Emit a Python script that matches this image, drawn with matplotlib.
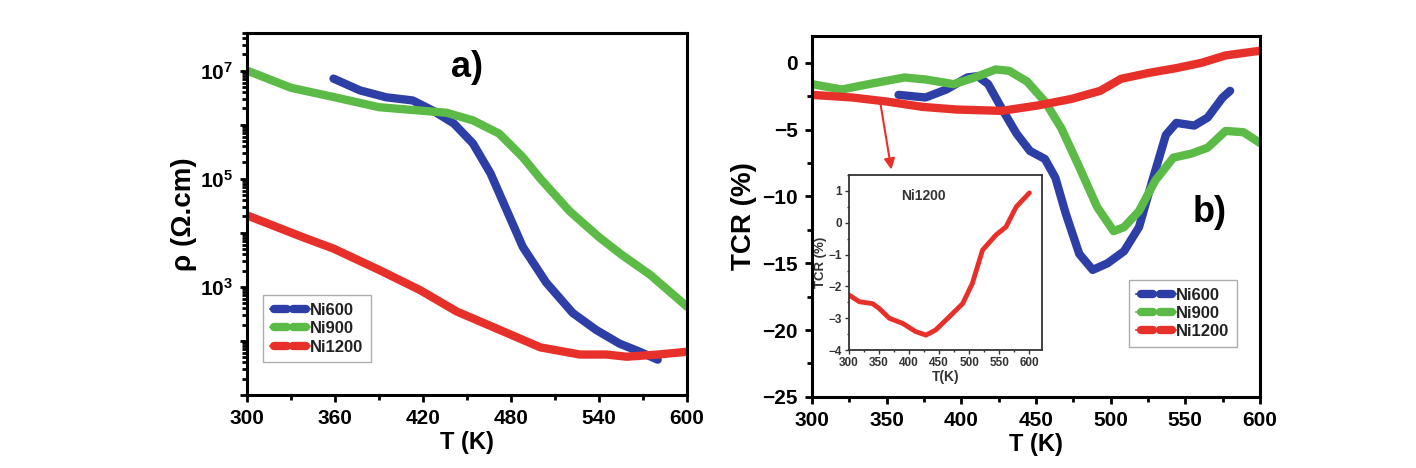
import numpy as np
import matplotlib
matplotlib.use('Agg')
import matplotlib.pyplot as plt
from matplotlib.lines import Line2D
from matplotlib.legend_handler import HandlerBase
from matplotlib.ticker import MultipleLocator, LogLocator, NullFormatter

plt.rcParams['font.family'] = ['Liberation Sans', 'DejaVu Sans']
plt.rcParams['font.weight'] = 'bold'
plt.rcParams['axes.labelweight'] = 'bold'
plt.rcParams['mathtext.fontset'] = 'custom'
plt.rcParams['mathtext.rm'] = 'Liberation Sans:bold'
plt.rcParams['mathtext.bf'] = 'Liberation Sans:bold'

# ---- panel a) resistivity [Ohm cm] vs T [K]
T_600a = [359, 377, 395, 413, 427, 441, 454, 466, 475, 488, 504, 522, 538, 554, 566, 580]
rho_600 = [7.1e6, 4.3e6, 3.2e6, 2.8e6, 1.8e6, 1.05e6, 4.5e5, 1.26e5, 3.5e4, 5.5e3,
           1.2e3, 3.3e2, 1.6e2, 89, 66, 45]
T_900a = [300, 330, 360, 390, 420, 436, 454, 472, 488, 500, 520, 540, 555, 575, 600]
rho_900 = [1.0e7, 4.8e6, 3.2e6, 2.1e6, 1.8e6, 1.66e6, 1.2e6, 6.8e5, 2.5e5, 1.0e5,
           2.5e4, 8.3e3, 4.0e3, 1.66e3, 4.3e2]
T_1200a = [300, 338, 359, 391, 418, 443, 470, 500, 527, 545, 559, 580, 600]
rho_1200 = [2.1e4, 8.3e3, 5.1e3, 2.0e3, 8.7e2, 3.5e2, 1.7e2, 76, 56, 56, 51, 56, 63]

# ---- panel b) TCR [%] vs T [K]
T_600b = [358, 376, 390, 404, 411, 418, 427, 437, 446, 456, 463, 470, 479, 488,
          498, 509, 519, 528, 537, 544, 556, 565, 575, 580]
tcr_600 = [-2.4, -2.6, -2.0, -1.1, -1.0, -1.6, -3.4, -5.3, -6.6, -7.2, -8.6, -11.3,
           -14.3, -15.5, -15.0, -14.1, -12.3, -8.8, -5.4, -4.5, -4.7, -4.1, -2.6, -2.1]
T_900b = [300, 320, 338, 362, 376, 395, 409, 423, 432, 444, 456, 467, 479, 491,
          502, 509, 519, 530, 542, 554, 565, 577, 589, 600]
tcr_900 = [-1.6, -2.0, -1.6, -1.1, -1.25, -1.6, -1.1, -0.5, -0.6, -1.4, -2.9, -4.9,
           -7.8, -10.8, -12.6, -12.3, -11.1, -8.8, -7.1, -6.8, -6.35, -5.1, -5.2, -6.0]
T_1200b = [300, 327, 350, 374, 397, 427, 451, 474, 493, 507, 526, 544, 561, 577, 600]
tcr_1200 = [-2.4, -2.6, -2.9, -3.3, -3.5, -3.6, -3.2, -2.7, -2.1, -1.2, -0.75, -0.4,
            0.0, 0.55, 0.9]

# inset, Ni1200 only
T_ins = [300, 317, 339, 350, 367, 389, 411, 428, 444, 467, 489, 505, 522, 544, 561, 578, 600]
tcr_ins = [-2.27, -2.48, -2.54, -2.69, -3.0, -3.16, -3.42, -3.53, -3.37, -2.95, -2.54,
           -1.91, -0.86, -0.39, -0.13, 0.50, 0.94]

labels = ['Ni600', 'Ni900', 'Ni1200']
c_blue = '#2d3fa6'
c_green = '#5cba47'
c_red = '#e8302a'
colors = [c_blue, c_green, c_red]


class CapsuleHandler(HandlerBase):
    # two rounded thick strokes joined by a thin line (Origin line+symbol look)
    def create_artists(self, legend, orig_handle, xdescent, ydescent,
                       width, height, fontsize, trans):
        c = orig_handle.get_color()
        y = height / 2 - ydescent
        x0 = -xdescent
        thin = Line2D([x0, x0 + width], [y, y], color=c, lw=1.2, transform=trans)
        a = Line2D([x0 + 3, x0 + width * 0.42], [y, y], color=c, lw=6,
                   solid_capstyle='round', transform=trans)
        b = Line2D([x0 + width * 0.58, x0 + width - 3], [y, y], color=c, lw=6,
                   solid_capstyle='round', transform=trans)
        return [thin, a, b]


fig = plt.figure(figsize=(14.16, 4.68), dpi=100)
ax1 = fig.add_axes([0.1744, 0.156, 0.3108, 0.774])
ax2 = fig.add_axes([0.5734, 0.152, 0.3164, 0.771])
axi = fig.add_axes([0.5996, 0.252, 0.1363, 0.374])

kw = dict(lw=6, solid_capstyle='round', solid_joinstyle='round')
ax1.plot(T_600a, rho_600, color=c_blue, **kw)
ax1.plot(T_900a, rho_900, color=c_green, **kw)
ax1.plot(T_1200a, rho_1200, color=c_red, **kw)
ax1.set_yscale('log')
ax1.set_xlim(300, 600)
ax1.set_ylim(10, 5e7)
ax1.set_xticks([300, 360, 420, 480, 540, 600])
ax1.xaxis.set_minor_locator(MultipleLocator(30))
ax1.set_yticks([10.0**k for k in range(1, 8)])
ax1.set_yticklabels([r'$\mathregular{10^{%d}}$' % k if k in (3, 5, 7) else '' for k in range(1, 8)])
ax1.yaxis.set_minor_locator(LogLocator(base=10, subs=np.arange(2, 10)))
ax1.yaxis.set_minor_formatter(NullFormatter())
ax1.set_xlabel('T (K)', fontsize=17, labelpad=2)
ax1.set_ylabel('\u03c1 (\u03a9.cm)', fontsize=20, labelpad=2)
ax1.text(450, 10**7.05, 'a)', fontsize=26, ha='center', va='center')

ax2.plot(T_600b, tcr_600, color=c_blue, **kw)
ax2.plot(T_900b, tcr_900, color=c_green, **kw)
ax2.plot(T_1200b, tcr_1200, color=c_red, **kw)
ax2.set_xlim(300, 600)
ax2.set_ylim(-25, 2)
ax2.set_xticks(np.arange(300, 601, 50))
ax2.set_yticks(np.arange(-25, 1, 5))
ax2.xaxis.set_minor_locator(MultipleLocator(25))
ax2.yaxis.set_minor_locator(MultipleLocator(2.5))
ax2.set_xlabel('T (K)', fontsize=17, labelpad=2)
ax2.set_ylabel('TCR (%)', fontsize=20, labelpad=4)
ax2.text(566, -11.2, 'b)', fontsize=26, ha='center', va='center')
ax2.annotate('', xy=(353.5, -8.2), xytext=(345.5, -2.8),
             arrowprops=dict(arrowstyle='-|>', color=c_red, lw=1.5, mutation_scale=16))

axi.plot(T_ins, tcr_ins, color=c_red, lw=3.5, solid_capstyle='round', solid_joinstyle='round')
axi.set_xlim(300, 621)
axi.set_ylim(-4, 1.5)
axi.set_xticks(np.arange(300, 601, 50))
axi.set_yticks(np.arange(-4, 2, 1))
axi.xaxis.set_minor_locator(MultipleLocator(25))
axi.yaxis.set_minor_locator(MultipleLocator(0.5))
axi.tick_params(which='both', direction='out', labelsize=8.5, width=1, pad=2, colors='#333333')
axi.tick_params(which='major', length=3)
axi.tick_params(which='minor', length=1.5)
for s in axi.spines.values():
    s.set_linewidth(1.3)
    s.set_color('#333333')
axi.set_xlabel('T(K)', fontsize=10, labelpad=1, color='#333333')
axi.set_ylabel('TCR (%)', fontsize=9.5, labelpad=1, color='#333333')
axi.text(0.27, 0.86, 'Ni1200', transform=axi.transAxes, fontsize=10, color='#333333')

for ax in (ax1, ax2):
    for s in ax.spines.values():
        s.set_linewidth(2.2)
    ax.tick_params(which='both', direction='out', width=2, labelsize=15, top=False, right=False)
    ax.tick_params(which='major', length=5, pad=5)
    ax.tick_params(which='minor', length=3.5)

proxies = [Line2D([], [], color=c) for c in colors]
leg_kw = dict(fontsize=12, frameon=True, fancybox=False, edgecolor='#999999',
              handlelength=2.4, handletextpad=0.0, labelspacing=0.2,
              borderpad=0.45, borderaxespad=0,
              handler_map={Line2D: CapsuleHandler()})
l1 = ax1.legend(proxies, labels, loc='lower left', bbox_to_anchor=(0.036, 0.091), **leg_kw)
l2 = ax2.legend(proxies, labels, loc='lower right', bbox_to_anchor=(0.949, 0.139), **leg_kw)
for leg in (l1, l2):
    leg.get_frame().set_linewidth(1.0)
    for t in leg.get_texts():
        t.set_color('#222222')

fig.savefig('out.png', dpi=100)
